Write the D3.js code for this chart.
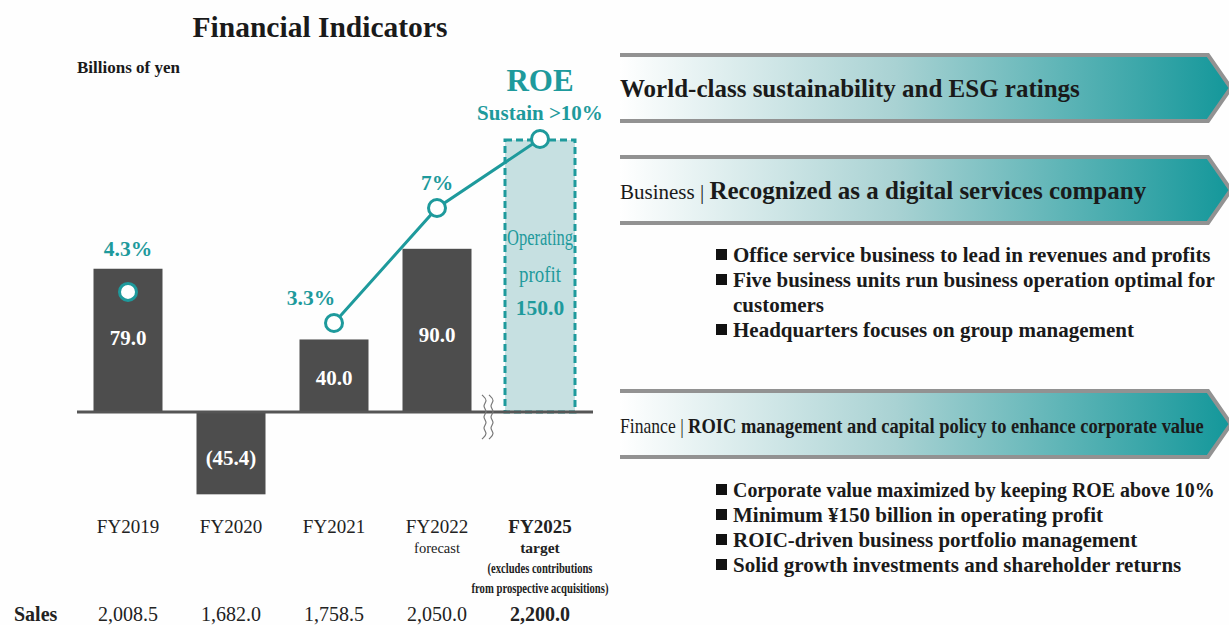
<!DOCTYPE html>
<html>
<head>
<meta charset="utf-8">
<script src="https://cdn.jsdelivr.net/npm/d3@7"></script>
<style>
  body { margin: 0; background: #fefefe; }
  svg { display: block; font-family: "Liberation Serif", "Times New Roman", serif; }
</style>
</head>
<body>
<div id="chart"></div>
<script>
'use strict';

// ---- data ----
const categories = ['FY2019', 'FY2020', 'FY2021', 'FY2022', 'FY2025'];
const subLabels = [[], [], [], ['forecast'], ['target', '(excludes contributions', 'from prospective acquisitions)']];
const operatingProfit = [79.0, -45.4, 40.0, 90.0, 150.0];
const roe = [4.3, null, 3.3, 7, 10];
const roeLabels = ['4.3%', null, '3.3%', '7%', null];
const sales = [2008.5, 1682.0, 1758.5, 2050.0, 2200.0];

const banners = [
    { tag: '', text: 'World-class sustainability and ESG ratings' },
    { tag: 'Business | ', text: 'Recognized as a digital services company' },
    { tag: 'Finance | ', text: 'ROIC management and capital policy to enhance corporate value' }
];
const businessBullets = [
    'Office service business to lead in revenues and profits',
    'Five business units run business operation optimal for',
    'customers',
    'Headquarters focuses on group management'
];
const financeBullets = [
    'Corporate value maximized by keeping ROE above 10%',
    'Minimum \u00a5150 billion in operating profit',
    'ROIC-driven business portfolio management',
    'Solid growth investments and shareholder returns'
];

const teal = '#1e9a9c';
const barColour = '#4d4d4d';

const W = 1229, H = 625;
const svg = d3.select('#chart').append('svg').attr('width', W).attr('height', H);

// squeeze a text sideways (keeps glyph height) so it fits a width
const squeeze = function squeeze(g, textSel, maxW) {
    const w = textSel.node().getComputedTextLength();
    if (w > maxW) {
        const k = maxW / w;
        g.attr('transform', g.attr('transform') + ' scale(' + k + ',1)');
    }
};

// ---- scales ----
const xScale = d3.scalePoint().domain(categories).range([128, 540]);
const yScale = d3.scaleLinear().domain([0, 150]).range([412, 140]);
const roeScale = d3.scaleLinear().domain([3.3, 7, 10]).range([323, 208, 139]);

// ---- left: titles ----
svg.append('text').attr('x', 320).attr('y', 37).attr('text-anchor', 'middle')
    .attr('font-size', 29.5).attr('font-weight', 'bold').attr('fill', '#1a1a1a')
    .text('Financial Indicators');

svg.append('text').attr('x', 77).attr('y', 73)
    .attr('font-size', 17).attr('font-weight', 'bold').attr('fill', '#1a1a1a')
    .text('Billions of yen');

// ---- bars ----
const bars = svg.append('g').attr('class', 'bars');
const barW = 69;

bars.selectAll('rect.bar')
    .data(operatingProfit.slice(0, 4))
    .enter().append('rect')
    .attr('class', 'bar')
    .attr('x', (d, i) => xScale(categories[i]) - barW / 2)
    .attr('y', d => yScale(Math.max(0, d)))
    .attr('width', barW)
    .attr('height', d => Math.abs(yScale(d) - yScale(0)))
    .attr('fill', barColour);

// target box
const target = operatingProfit[4];
bars.append('rect')
    .attr('x', xScale(categories[4]) - 35)
    .attr('y', yScale(target))
    .attr('width', 70)
    .attr('height', yScale(0) - yScale(target))
    .attr('fill', '#c6e0e1')
    .attr('stroke', teal)
    .attr('stroke-width', 3)
    .attr('stroke-dasharray', '7,4');

// value labels
const fmtProfit = d => d < 0 ? '(' + d3.format('.1f')(-d) + ')' : d3.format('.1f')(d);
const labelY = [345, 465, 385, 342];
bars.selectAll('text.val')
    .data(operatingProfit.slice(0, 4))
    .enter().append('text')
    .attr('class', 'val')
    .attr('x', (d, i) => xScale(categories[i]))
    .attr('y', (d, i) => labelY[i])
    .attr('text-anchor', 'middle')
    .attr('font-size', 21).attr('font-weight', 'bold').attr('fill', '#fff')
    .text(fmtProfit);

const bx = xScale(categories[4]);
[['Operating', 245, 66], ['profit', 282, 42]].forEach(([s, y, w]) => {
    const g = bars.append('g').attr('transform', 'translate(' + bx + ',' + y + ')');
    const t = g.append('text').attr('text-anchor', 'middle')
        .attr('font-size', 24).attr('fill', teal).text(s);
    squeeze(g, t, w);
});
bars.append('text').attr('x', bx).attr('y', 315).attr('text-anchor', 'middle')
    .attr('font-size', 21.5).attr('font-weight', 'bold').attr('fill', teal)
    .text(fmtProfit(target));

// zero line
svg.append('line').attr('x1', 77).attr('x2', 593)
    .attr('y1', yScale(0)).attr('y2', yScale(0))
    .attr('stroke', '#555').attr('stroke-width', 3);

// axis break
const wave = d3.line().curve(d3.curveBasis);
[485, 492].forEach(x0 => {
    const pts = d3.range(0, 9).map(k => [x0 + (k % 2 ? 3 : -3), 395 + k * 5.5]);
    svg.append('path').attr('d', wave(pts)).attr('fill', 'none')
        .attr('stroke', '#777').attr('stroke-width', 1.2);
});

// ---- ROE line ----
const roeData = roe.map((v, i) => ({ cat: categories[i], v: v, label: roeLabels[i] }));
const line = d3.line()
    .defined(d => d.v != null)
    .x(d => xScale(d.cat))
    .y(d => roeScale(d.v));

svg.append('path')
    .datum(roeData.slice(2))
    .attr('d', line)
    .attr('fill', 'none').attr('stroke', teal).attr('stroke-width', 3);

svg.selectAll('circle.roe')
    .data(roeData.filter(d => d.v != null))
    .enter().append('circle')
    .attr('class', 'roe')
    .attr('cx', d => xScale(d.cat))
    .attr('cy', d => roeScale(d.v))
    .attr('r', 8.5)
    .attr('fill', '#fff').attr('stroke', teal).attr('stroke-width', 3);

const roeLabelPos = { 'FY2019': [0, -36], 'FY2021': [-23, -18], 'FY2022': [0, -18] };
svg.selectAll('text.roe')
    .data(roeData.filter(d => d.label))
    .enter().append('text')
    .attr('class', 'roe')
    .attr('x', d => xScale(d.cat) + roeLabelPos[d.cat][0])
    .attr('y', d => roeScale(d.v) + roeLabelPos[d.cat][1])
    .attr('text-anchor', 'middle')
    .attr('font-size', 21.5).attr('font-weight', 'bold').attr('fill', teal)
    .text(d => d.label);

svg.append('text').attr('x', 540).attr('y', 91).attr('text-anchor', 'middle')
    .attr('font-size', 31).attr('font-weight', 'bold').attr('fill', teal).text('ROE');
svg.append('text').attr('x', 540).attr('y', 120).attr('text-anchor', 'middle')
    .attr('font-size', 21).attr('font-weight', 'bold').attr('fill', teal).text('Sustain >10%');

// ---- category labels ----
const cats = svg.append('g').attr('class', 'categories');
const subWidths = [null, 105, 137];
categories.forEach((c, i) => {
    const last = i === categories.length - 1;
    cats.append('text').attr('x', xScale(c)).attr('y', 533).attr('text-anchor', 'middle')
        .attr('font-size', 19).attr('font-weight', last ? 'bold' : 'normal').attr('fill', '#222')
        .text(c);
    subLabels[i].forEach((s, j) => {
        const g = cats.append('g').attr('transform', 'translate(' + xScale(c) + ',' + (553 + j * 20) + ')');
        const t = g.append('text').attr('text-anchor', 'middle').attr('fill', '#222');
        if (last && j > 0) {
            t.attr('font-size', 14).attr('font-weight', 'bold').text(s);
            squeeze(g, t, subWidths[j]);
        } else {
            t.attr('font-size', last ? 15.5 : 14.5).attr('font-weight', last ? 'bold' : 'normal').text(s);
        }
    });
});

// sales row
svg.append('text').attr('x', 14).attr('y', 621)
    .attr('font-size', 20).attr('font-weight', 'bold').attr('fill', '#222').text('Sales');
svg.selectAll('text.sales')
    .data(sales)
    .enter().append('text')
    .attr('class', 'sales')
    .attr('x', (d, i) => xScale(categories[i]))
    .attr('y', 621)
    .attr('text-anchor', 'middle')
    .attr('font-size', 20)
    .attr('font-weight', (d, i) => i === sales.length - 1 ? 'bold' : 'normal')
    .attr('fill', '#222')
    .text(d3.format(',.1f'));

// ---- right: banners ----
const defs = svg.append('defs');
const grad = defs.append('linearGradient').attr('id', 'bannerGrad')
    .attr('x1', '0%').attr('x2', '100%').attr('y1', '0%').attr('y2', '0%');
grad.append('stop').attr('offset', '0%').attr('stop-color', '#ffffff');
grad.append('stop').attr('offset', '45%').attr('stop-color', '#a9d2d3');
grad.append('stop').attr('offset', '100%').attr('stop-color', '#13979a');

const bannerTops = [55, 157, 391];
const bannerH = 66;
const bLeft = 620, bCorner = 1208, bTip = 1231;

banners.forEach((b, i) => {
    const top = bannerTops[i], bot = top + bannerH, mid = top + bannerH / 2;
    const g = svg.append('g').attr('class', 'banner');
    g.append('path')
        .attr('d', `M${bLeft},${top}L${bCorner},${top}L${bTip},${mid}L${bCorner},${bot}L${bLeft},${bot}Z`)
        .attr('fill', 'url(#bannerGrad)');
    g.append('path')
        .attr('d', `M${bLeft},${top}L${bCorner},${top}L${bTip},${mid}L${bCorner},${bot}L${bLeft},${bot}`)
        .attr('fill', 'none').attr('stroke', '#929292').attr('stroke-width', 4);

    const tg = g.append('g').attr('transform', 'translate(' + bLeft + ',' + (mid + 9) + ')');
    const t = tg.append('text').attr('fill', '#1a1a1a');
    if (b.tag) {
        t.append('tspan').attr('font-size', 21).text(b.tag);
    }
    t.append('tspan').attr('font-size', i === 2 ? 22 : 25).attr('font-weight', 'bold').text(b.text);
    squeeze(tg, t, bCorner - bLeft - 4);
});

// bullets
const maxRight = 1215;
const drawBullets = function drawBullets(list, y0, step) {
    const g = svg.append('g').attr('class', 'bullets');
    list.forEach((s, i) => {
        const y = y0 + i * step;
        if (s !== 'customers') {
            g.append('rect').attr('x', 716).attr('y', y - 13).attr('width', 11).attr('height', 11).attr('fill', '#111');
        }
        const tg = g.append('g').attr('transform', 'translate(733,' + y + ')');
        const t = tg.append('text')
            .attr('font-size', 21).attr('font-weight', 'bold').attr('fill', '#1a1a1a')
            .text(s);
        squeeze(tg, t, maxRight - 733);
    });
};
drawBullets(businessBullets, 262, 25);
drawBullets(financeBullets, 497, 25);
</script>
</body>
</html>
